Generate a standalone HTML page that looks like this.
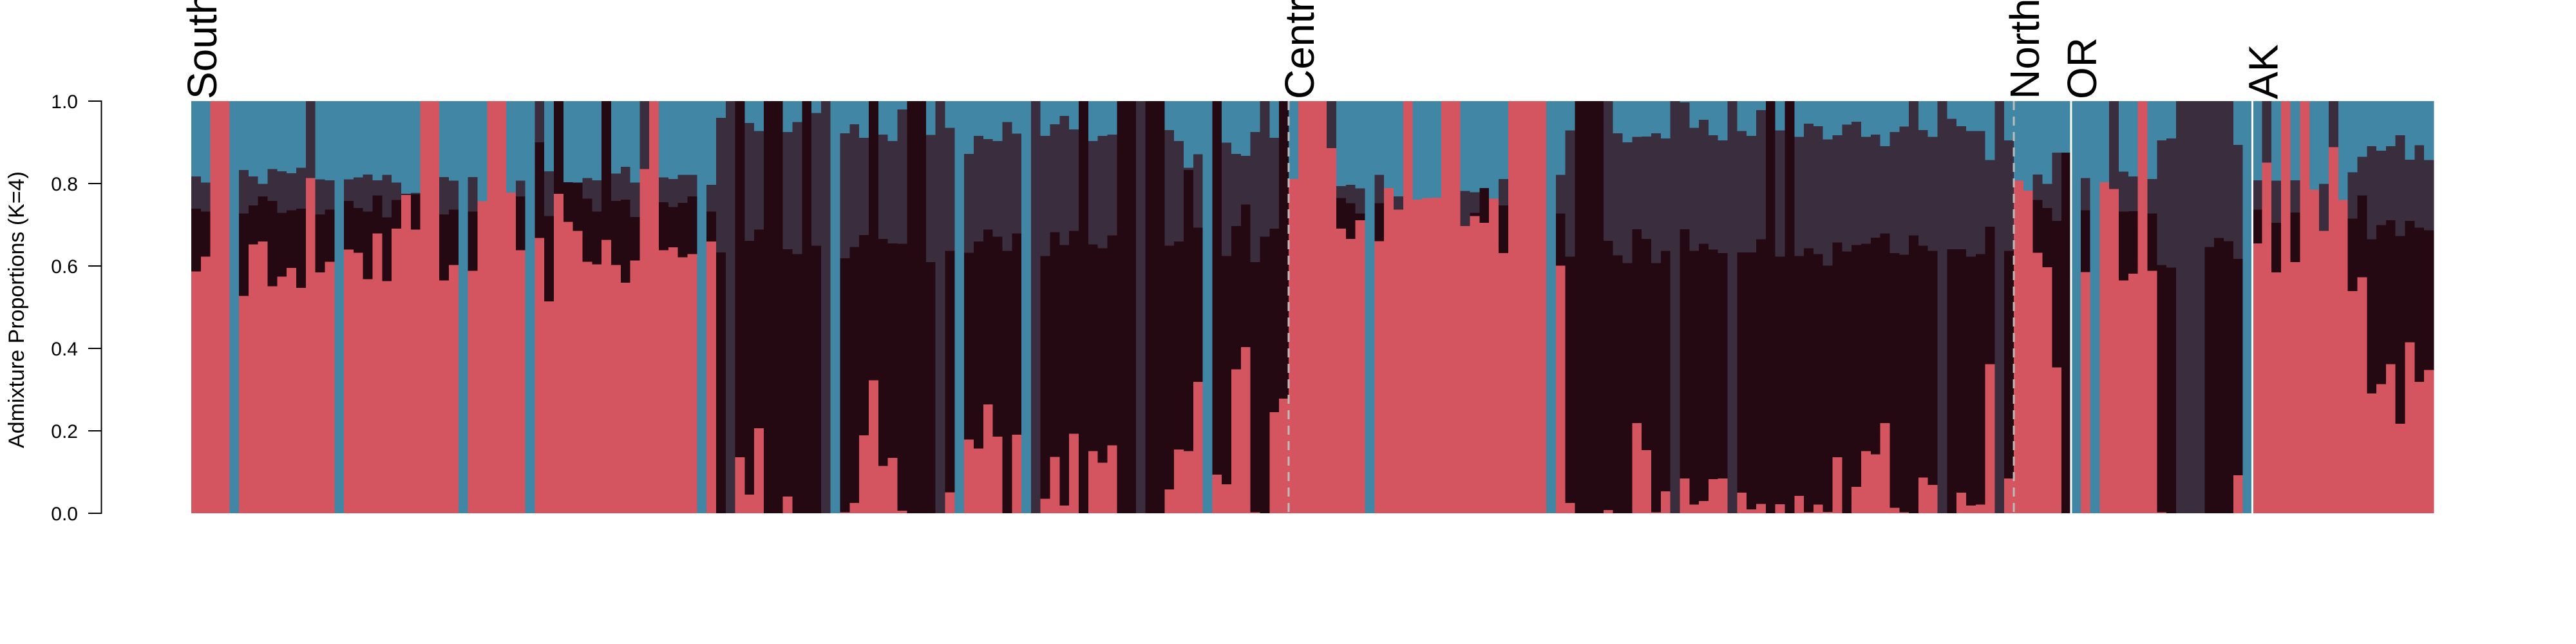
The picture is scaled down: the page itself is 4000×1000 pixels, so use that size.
<!DOCTYPE html>
<html>
<head>
<meta charset="utf-8">
<style>
  html, body { margin: 0; padding: 0; background: #ffffff; }
  svg { display: block; }
  text { font-family: "Liberation Sans", "DejaVu Sans", sans-serif; }
</style>
</head>
<body>
<svg id="chart" width="4000" height="1000" viewBox="0 0 4000 1000" xmlns="http://www.w3.org/2000/svg">
  <rect x="0" y="0" width="4000" height="1000" fill="#ffffff"/>
  <g id="bars" shape-rendering="crispEdges"></g>
  <g id="group-lines"></g>
  <g id="group-labels"></g>
  <g id="y-axis"></g>
  <text transform="translate(37,481) rotate(-90)" text-anchor="middle" font-size="34" fill="#000">Admixture Proportions (K=4)</text>
</svg>
<script>
// Cumulative proportions per individual (bottom to top): red, +dark, +purple; remainder is blue.
const redTop = [.587,.623,1,1,0,.527,.652,.659,.551,.574,
.595,.547,.813,.584,.61,0,.64,.632,.568,.679,
.563,.691,.773,.688,1,1,.565,.602,0,.588,
.757,1,1,.778,.638,0,.668,.514,.775,.707,
.685,.61,.604,.663,.602,.559,.613,.835,1,.638,
.645,.621,.629,0,.659,0,0,.136,.045,.206,
0,0,.041,0,0,0,0,0,.002,.025,
.189,.323,.115,.134,.006,0,0,0,0,.051,
0,.179,.157,.264,.186,0,.191,0,0,.035,
.137,.019,.193,0,.151,.123,.165,0,0,0,
0,0,.058,.155,.151,.319,0,.094,.07,.349,
.403,.002,0,.245,.278,.811,1,1,1,.886,
.691,.666,.711,0,.66,.789,.737,1,.761,.765,
.766,1,1,.697,.721,.705,.763,.631,1,1,
1,1,0,.601,.025,0,0,0,.008,0,
0,.219,.153,.002,.053,0,.084,.021,.03,.083,
.084,0,.05,.009,.023,0,.022,0,.042,.002,
.021,.003,.136,0,.064,.151,.143,.219,.013,.002,
0,.087,.069,0,0,.05,.019,.021,.362,0,
.084,.807,.783,.632,.597,.354,0,0,.585,0,
.803,.787,.565,.581,1,.588,.002,0,0,0,
0,0,0,0,.092,0,.655,.851,.584,1,
.609,1,.785,.685,.888,.76,.539,.573,.291,.313,
.362,.217,.415,.319,.348];
const darkTop = [.739,.732,1,1,0,.727,.747,.769,.758,.729,
.735,.739,.813,.725,.737,0,.758,.741,.732,.771,
.718,.76,.775,.774,1,1,.725,.737,0,.732,
.757,1,1,.778,.769,0,.9,.721,1,.803,
.802,.763,.732,1,.758,.761,.719,.835,1,.755,
.743,.753,.769,0,.732,.633,0,1,.661,.688,
1,1,.641,.629,1,.649,0,0,.619,.646,
.675,1,.666,.655,.654,1,1,.609,0,.637,
0,.632,.659,.688,.671,.637,.679,0,0,.624,
.682,.651,.685,1,.652,.643,.674,1,1,0,
1,1,.649,.659,.833,.693,0,1,.624,.697,
.749,.609,.671,.691,1,.811,1,1,1,.886,
.765,.752,.727,0,.752,.789,.737,1,.761,.765,
.766,1,1,.697,.729,.789,.763,.747,1,1,
1,1,0,.727,.623,1,1,1,.661,.626,
.607,.689,.666,.607,.637,0,.689,.637,.654,.64,
.631,0,.633,.633,.665,1,.623,1,.624,.643,
.629,.601,.657,.635,.651,.654,.669,.679,.631,.627,
.674,.649,.637,0,.641,.641,.623,.629,.695,0,
.637,.807,.783,.76,.741,.709,.875,0,.735,0,
.803,.787,.732,.733,1,.727,.602,.596,0,0,
0,.646,.668,.66,.617,0,.737,.851,.705,1,
.73,1,.785,.685,.888,.76,.715,.771,.665,.699,
.711,.673,.709,.693,.687];
const purpleTop = [.817,.802,1,1,0,.833,.817,.799,.835,.83,
.825,.838,1,.81,.808,0,.81,.815,.822,.808,
.821,.802,.775,.777,1,1,.816,.807,0,.816,
.757,1,1,.778,.807,0,1,.83,1,.803,
.802,.813,.808,1,.824,.841,.802,1,1,.815,
.811,.821,.821,0,.797,.959,1,1,.947,.927,
1,1,.925,.949,1,.971,1,0,.922,.944,
.911,1,.919,.903,.98,1,1,.918,1,.935,
0,.872,.916,.908,.903,.949,.921,0,1,.916,
.944,.964,.931,1,.903,.916,.919,1,1,1,
1,1,.93,.903,.838,.871,0,1,.899,.872,
.867,.925,1,.911,1,.811,1,1,1,1,
.794,.797,.788,0,.821,.789,.769,1,.761,.765,
.766,1,1,.782,.779,.789,.763,.811,1,1,
1,1,0,.821,.929,1,1,1,1,.922,
.9,.913,.914,.922,.909,1,.997,.935,.955,.917,
.905,1,.927,.916,.978,1,.929,1,.913,.945,
.939,.907,.917,.943,.95,.913,.919,.891,.925,.938,
1,.93,.913,1,.957,.939,.927,.927,.857,1,
.905,.807,.783,.822,.799,.875,.875,0,.813,0,
.803,1,.829,.817,1,.811,.905,.909,1,1,
1,1,1,1,.894,0,.808,1,.807,1,
.808,1,.785,.799,1,.76,.827,.865,.891,.88,
.891,.917,.858,.893,.857];
const groupNames = ["South", "Central", "North", "OR", "AK"];
const groupStarts = [0, 115, 191, 197, 216];
const groupLineStyles = ["none", "dashed", "dashed", "solid", "solid"];
const yTickValues = [0, 0.2, 0.4, 0.6, 0.8, 1.0];
const yTickLabels = ["0.0", "0.2", "0.4", "0.6", "0.8", "1.0"];

const NS = "http://www.w3.org/2000/svg";
const X0 = 297, X1 = 3779, Y0 = 797, Y1 = 157;
const N = redTop.length;
const barW = (X1 - X0) / N;
function xPos(i) { return X0 + i * barW; }
function yPos(v) { return Y0 - v * (Y0 - Y1); }
const colors = { red: "#d4555f", dark: "#250912", purple: "#3a2d3e", blue: "#4186a5" };

const barsG = document.getElementById("bars");
for (let i = 0; i < N; i++) {
  const segs = [
    ["red", 0, redTop[i]],
    ["dark", redTop[i], darkTop[i]],
    ["purple", darkTop[i], purpleTop[i]],
    ["blue", purpleTop[i], 1]
  ];
  const x = xPos(i), x2 = xPos(i + 1);
  for (const s of segs) {
    if (s[2] - s[1] <= 0) continue;
    const r = document.createElementNS(NS, "rect");
    
    
    r.setAttribute("x", x.toFixed(2));
    r.setAttribute("width", (x2 - x + 0.6).toFixed(2));
    r.setAttribute("y", yPos(s[2]).toFixed(2));
    r.setAttribute("height", (yPos(s[1]) - yPos(s[2])).toFixed(2));
    r.setAttribute("fill", colors[s[0]]);
    barsG.appendChild(r);
  }
}

const linesG = document.getElementById("group-lines");
const labelsG = document.getElementById("group-labels");
for (let g = 0; g < groupNames.length; g++) {
  const gx = xPos(groupStarts[g]);
  if (groupLineStyles[g] !== "none") {
    const ln = document.createElementNS(NS, "line");
    
    
    ln.setAttribute("x1", gx); ln.setAttribute("x2", gx);
    ln.setAttribute("y1", Y1); ln.setAttribute("y2", Y0 + 8);
    ln.setAttribute("stroke-width", "3");
    if (groupLineStyles[g] === "dashed") {
      ln.setAttribute("stroke", "#bdbdbd");
      ln.setAttribute("stroke-dasharray", "14 10");
    } else {
      ln.setAttribute("stroke", "#ffffff");
    }
    linesG.appendChild(ln);
  }
  const t = document.createElementNS(NS, "text");
  
  
  t.setAttribute("transform", "translate(" + (gx + 39).toFixed(1) + ",154) rotate(-90)");
  t.setAttribute("font-size", "64");
  t.setAttribute("fill", "#000");
  t.textContent = groupNames[g];
  labelsG.appendChild(t);
}

const axisG = document.getElementById("y-axis");
const axisLine = document.createElementNS(NS, "line");


axisLine.setAttribute("x1", 157.5); axisLine.setAttribute("x2", 157.5);
axisLine.setAttribute("y1", Y1); axisLine.setAttribute("y2", Y0);
axisLine.setAttribute("stroke", "#000"); axisLine.setAttribute("stroke-width", "2");
axisG.appendChild(axisLine);
for (let k = 0; k < yTickValues.length; k++) {
  const ty = yPos(yTickValues[k]);
  const tk = document.createElementNS(NS, "line");
  
  
  tk.setAttribute("x1", 137); tk.setAttribute("x2", 158.5);
  tk.setAttribute("y1", ty); tk.setAttribute("y2", ty);
  tk.setAttribute("stroke", "#000"); tk.setAttribute("stroke-width", "2");
  axisG.appendChild(tk);
  const tl = document.createElementNS(NS, "text");
  
  
  tl.setAttribute("x", 121); tl.setAttribute("y", ty + 11);
  tl.setAttribute("text-anchor", "end");
  tl.setAttribute("font-size", "30");
  tl.setAttribute("fill", "#000");
  tl.textContent = yTickLabels[k];
  axisG.appendChild(tl);
}
</script>
</body>
</html>
